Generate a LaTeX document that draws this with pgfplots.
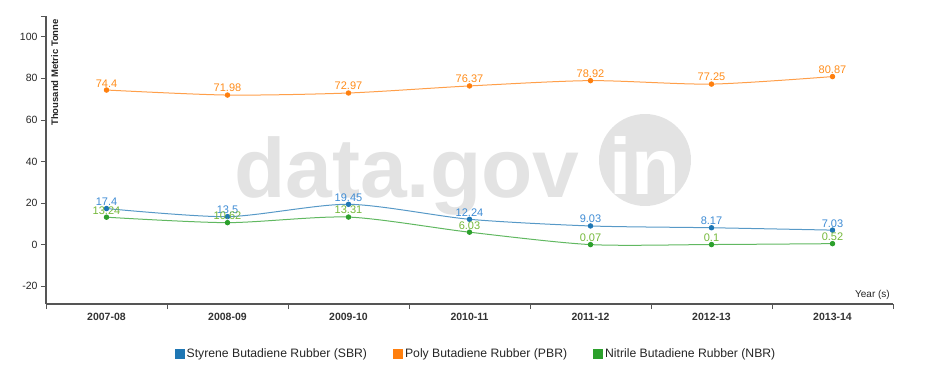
\documentclass[border=0pt]{standalone}
\usepackage{pgfplots}
\pgfplotsset{compat=1.18}
\usepackage{fontspec}
\setmainfont{Liberation Sans}
\definecolor{cSBR}{HTML}{1F77B4}
\definecolor{cPBR}{HTML}{FF7F0E}
\definecolor{cNBR}{HTML}{2CA02C}
\definecolor{lSBR}{HTML}{3D8BD4}
\definecolor{lPBR}{HTML}{FF8C1A}
\definecolor{lNBR}{HTML}{74B83A}
\definecolor{axisgray}{HTML}{555555}
\definecolor{wm}{HTML}{E3E3E3}
\begin{document}
\begin{tikzpicture}
\useasboundingbox (0pt,0pt) rectangle (926pt,378pt);
% watermark
\node[anchor=base west, inner sep=0pt, text=wm, font=\fontsize{84}{84}\selectfont\bfseries] at (234pt,180pt) {data.gov};
\fill[wm] (645pt,218pt) circle (46pt);
\node[text=white, font=\fontsize{80}{80}\selectfont\bfseries, inner sep=0pt] at (645pt,212pt) {in};
\begin{axis}[
  at={(46pt,74pt)}, anchor=south west,
  scale only axis, width=847pt, height=288pt,
  xmin=-0.5, xmax=6.5, ymin=-28.5, ymax=110,
  axis x line=bottom, axis y line=left,
  axis line style={-, color=axisgray, line width=1.2pt},
  xtick={0,...,6},
  xticklabels={2007-08,2008-09,2009-10,2010-11,2011-12,2012-13,2013-14},
  minor xtick={-0.5,0.5,...,6.5},
  ytick={-20,0,20,40,60,80,100},
  extra y ticks={110}, extra y tick labels={},
  tick align=outside,
  major tick length=5pt, minor tick length=5pt,
  x tick style={draw=none}, minor x tick style={draw=axisgray, line width=0.8pt},
  y tick style={draw=axisgray, line width=0.8pt},
  extra y tick style={tick style={draw=axisgray, line width=0.8pt}},
  x tick label style={font=\fontsize{10.5}{12}\selectfont\bfseries, text=black!80, yshift=-1pt},
  y tick label style={font=\fontsize{10.5}{12}\selectfont, text=black!85},
  /pgf/number format/assume math mode=true,
  clip=false,
  nodes near coords={\pgfmathprintnumber[fixed, precision=2]{\pgfplotspointmeta}},
  every node near coord/.append style={font=\fontsize{11}{12}\selectfont, anchor=south, yshift=1.5pt, inner sep=1pt},
  legend columns=3,
  legend style={at={(0.5077,-0.174)}, anchor=center, draw=none, fill=none,
    font=\fontsize{12.2}{14}\selectfont, text=black!85,
    /tikz/every even column/.append style={column sep=24pt}},
  legend image code/.code={\fill[#1, draw=none] (0pt,-5pt) rectangle (10pt,5pt);},
]
\addplot[color=cSBR, draw opacity=0.75, line width=1pt, smooth, tension=0.45,
  mark=*, mark size=2.2pt, mark options={fill=cSBR, draw=none, opacity=1},
  every node near coord/.append style={text=lSBR}]
  coordinates {(0,17.4) (1,13.5) (2,19.45) (3,12.24) (4,9.03) (5,8.17) (6,7.03)};
\addlegendentry{Styrene Butadiene Rubber (SBR)}
\addplot[color=cPBR, draw opacity=0.75, line width=1pt, smooth, tension=0.45,
  mark=*, mark size=2.2pt, mark options={fill=cPBR, draw=none, opacity=1},
  every node near coord/.append style={text=lPBR}]
  coordinates {(0,74.4) (1,71.98) (2,72.97) (3,76.37) (4,78.92) (5,77.25) (6,80.87)};
\addlegendentry{Poly Butadiene Rubber (PBR)}
\addplot[color=cNBR, draw opacity=0.75, line width=1pt, smooth, tension=0.45,
  mark=*, mark size=2.2pt, mark options={fill=cNBR, draw=none, opacity=1},
  every node near coord/.append style={text=lNBR}]
  coordinates {(0,13.24) (1,10.62) (2,13.31) (3,6.03) (4,0.07) (5,0.1) (6,0.52)};
\addlegendentry{Nitrile Butadiene Rubber (NBR)}
\end{axis}
\node[rotate=90, anchor=north east, inner sep=0pt, font=\fontsize{9.5}{11}\selectfont\bfseries, text=black!85] at (51pt,359pt) {Thousand Metric Tonne};
\node[anchor=south east, inner sep=0pt, font=\fontsize{10}{12}\selectfont, text=black!85] at (890pt,78pt) {Year (s)};
\end{tikzpicture}
\end{document}
